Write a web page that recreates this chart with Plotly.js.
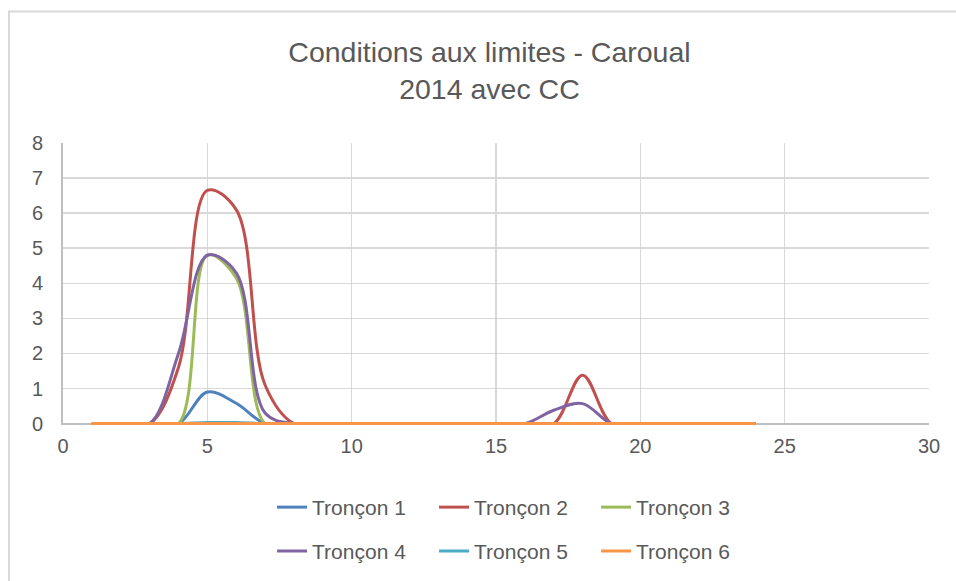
<!DOCTYPE html>
<html>
<head>
<meta charset="utf-8">
<script src="https://cdn.plot.ly/plotly-3.0.1.min.js"></script>
<style>html,body{margin:0;padding:0;background:#fff;}#chart{width:956px;height:581px;}</style>
</head>
<body>
<div id="chart"></div>
<script>
const xValues = [1,2,3,4,5,6,7,8,9,10,11,12,13,14,15,16,17,18,19,20,21,22,23,24];
const troncon1 = [0,0,0,0,0.9,0.58,0,0,0,0,0,0,0,0,0,0,0,0,0,0,0,0,0,0];
const troncon2 = [0,0,0,1.6,6.65,6.1,1.1,0,0,0,0,0,0,0,0,0,0,1.38,0,0,0,0,0,0];
const troncon3 = [0,0,0,0,4.8,4.15,0,0,0,0,0,0,0,0,0,0,0,0,0,0,0,0,0,0];
const troncon4 = [0,0,0,2.0,4.8,4.3,0.3,0,0,0,0,0,0,0,0,0,0.38,0.57,0,0,0,0,0,0];
const troncon5 = [0,0,0,0,0.03,0.03,0,0,0,0,0,0,0,0,0,0,0,0,0,0,0,0,0,0];
const troncon6 = [0,0,0,0,0,0,0,0,0,0,0,0,0,0,0,0,0,0,0,0,0,0,0,0];
const seriesNames = ["Tronçon 1","Tronçon 2","Tronçon 3","Tronçon 4","Tronçon 5","Tronçon 6"];
const seriesColors = ["#4F81BD","#C0504D","#9BBB59","#8064A2","#4BACC6","#F79646"];
const allSeries = [troncon1,troncon2,troncon3,troncon4,troncon5,troncon6];

const FONT = "'Liberation Sans', sans-serif";

const traces = allSeries.map((ys, i) => ({
  x: xValues, y: ys, type: 'scatter', mode: 'lines', name: seriesNames[i],
  legend: i < 3 ? 'legend' : 'legend2',
  line: {color: seriesColors[i], width: 3, shape: 'spline', smoothing: 1}
}));

const legendBase = {orientation: 'h', xanchor: 'center', yanchor: 'middle',
  font: {family: FONT, size: 21, color: '#595959'}, entrywidth: 117, tracegroupgap: 0, bgcolor: 'rgba(0,0,0,0)'};

const layout = {
  width: 956, height: 581,
  paper_bgcolor: '#fff', plot_bgcolor: '#fff',
  margin: {l: 63, r: 27, t: 143, b: 155.6, autoexpand: false},
  font: {family: FONT, color: '#595959', size: 20},
  title: {text: 'Conditions aux limites - Caroual<br>2014 avec CC', x: 0.512, xanchor: 'center', y: 0.893, yanchor: 'top',
          font: {family: FONT, size: 28.5, color: '#595959'}},
  showlegend: true,
  legend: Object.assign({}, legendBase, {x: 0.522, y: -0.2925}),
  legend2: Object.assign({}, legendBase, {x: 0.522, y: -0.448}),
  xaxis: {range: [0, 30], dtick: 5, tick0: 0, showgrid: true, gridcolor: '#d9d9d9', gridwidth: 1.5,
          showline: false, zeroline: false, ticks: '', automargin: false, ticklabelstandoff: 7,
          tickfont: {family: FONT, size: 20, color: '#595959'}},
  yaxis: {range: [-0.04, 8], dtick: 1, tick0: 0, showgrid: true, gridcolor: '#d9d9d9', gridwidth: 1.5,
          showline: true, linecolor: '#bfbfbf', linewidth: 2, zeroline: true, zerolinecolor: '#bfbfbf', zerolinewidth: 2,
          ticks: '', automargin: false, tickfont: {family: FONT, size: 20, color: '#595959'}, ticklabelstandoff: 14},
  shapes: [{type: 'rect', xref: 'paper', yref: 'paper', x0: -0.0624, x1: 1.2, y0: -1, y1: 1.466,
            line: {color: '#d9d9d9', width: 2}, fillcolor: 'rgba(0,0,0,0)', layer: 'below'}]
};

Plotly.newPlot('chart', traces, layout, {staticPlot: true, displayModeBar: false});
</script>
</body>
</html>
